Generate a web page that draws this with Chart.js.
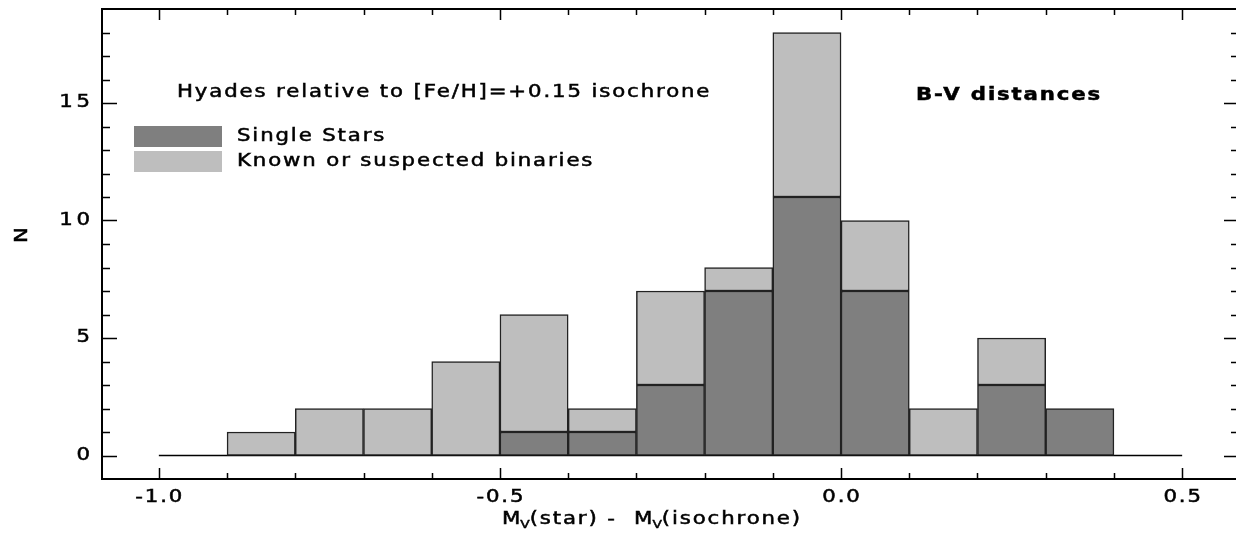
<!DOCTYPE html>
<html>
<head>
<meta charset="utf-8">
<script src="https://cdn.jsdelivr.net/npm/chart.js@4/dist/chart.umd.min.js"></script>
<style>
  html, body { margin: 0; padding: 0; background: #fff; overflow: hidden; }
  #wrap { width: 1236px; height: 548px; overflow: hidden; }
</style>
</head>
<body>
<div id="wrap"><canvas id="hist" width="1242" height="548"></canvas></div>
<script>
// Histogram bins (centres, width 0.1 mag) and counts per bin
const binCenters = [-0.85, -0.75, -0.65, -0.55, -0.45, -0.35, -0.25, -0.15, -0.05, 0.05, 0.15, 0.25, 0.35];
const singleStars = [0, 0, 0, 0, 1, 1, 3, 7, 11, 7, 0, 3, 2];
const binaries = [1, 2, 2, 4, 5, 1, 4, 1, 7, 3, 2, 2, 0];

// Axis ticks
const xTickValues = [-1.0, -0.5, 0.0, 0.5];
const xTickLabels = ['-1.0', '-0.5', '0.0', '0.5'];
const yTickValues = [0, 5, 10, 15];
const yTickLabels = ['0', '5', '10', '15'];

const SX = 1.25;       // horizontal stretch to mimic the wide plot font
const FONT = '"DejaVu Sans"';

// draw text stretched horizontally, returns drawn width
function drawText(ctx, text, x, y, opts) {
    opts = opts || {};
    const size = opts.size || 17;
    const spacing = opts.spacing === undefined ? 1.5 : opts.spacing;
    ctx.save();
    ctx.font = (opts.bold ? 'bold ' : '') + size + 'px ' + FONT;
    ctx.letterSpacing = spacing + 'px';
    ctx.textBaseline = 'middle';
    ctx.textAlign = 'left';
    ctx.fillStyle = '#000';
    ctx.strokeStyle = '#000';
    ctx.lineWidth = 0.5;
    const w = (ctx.measureText(text).width - spacing) * SX;
    let x0 = x;
    if (opts.align === 'center') x0 = x - w / 2;
    else if (opts.align === 'right') x0 = x - w;
    ctx.translate(x0, y);
    ctx.scale(SX, 1);
    ctx.fillText(text, 0, 0);
    ctx.strokeText(text, 0, 0);
    ctx.restore();
    return w;
}

function textWidth(ctx, text, size) {
    ctx.save();
    ctx.font = size + 'px ' + FONT;
    ctx.letterSpacing = '1.5px';
    const w = (ctx.measureText(text).width - 1.5) * SX;
    ctx.restore();
    return w;
}

// Frame, inward ticks, labels, legend and annotations
const framePlugin = {
    id: 'frame',
    afterDraw(chart) {
        const ctx = chart.ctx;
        const a = chart.chartArea;
        const xs = chart.scales.x;
        const ys = chart.scales.y;
        ctx.save();
        ctx.strokeStyle = '#000';
        ctx.lineWidth = 2;
        ctx.strokeRect(a.left, a.top, a.right - a.left, a.bottom - a.top);

        ctx.lineWidth = 1.5;
        ctx.beginPath();
        // x ticks every 0.1, major every 0.5
        for (let i = -10; i <= 5; i++) {
            const v = i / 10;
            const px = Math.round(xs.getPixelForValue(v)) + 0.5;
            const len = (i % 5 === 0) ? 11 : 6;
            ctx.moveTo(px, a.bottom); ctx.lineTo(px, a.bottom - len);
            ctx.moveTo(px, a.top); ctx.lineTo(px, a.top + len);
        }
        // y ticks every 1, major every 5
        for (let v = 0; v <= 18; v++) {
            const py = Math.round(ys.getPixelForValue(v)) + 0.5;
            const len = (v % 5 === 0) ? 15 : 8;
            ctx.moveTo(a.left, py); ctx.lineTo(a.left + len, py);
            ctx.moveTo(a.right, py); ctx.lineTo(a.right - len, py);
        }
        ctx.stroke();
        ctx.restore();

        xTickValues.forEach((v, i) => {
            drawText(ctx, xTickLabels[i], xs.getPixelForValue(v), a.bottom + 19, { align: 'center' });
        });
        yTickValues.forEach((v, i) => {
            drawText(ctx, yTickLabels[i], a.left - 12, ys.getPixelForValue(v), { align: 'right', spacing: 3 });
        });

        // y axis title
        ctx.save();
        ctx.translate(23, 235);
        ctx.rotate(-Math.PI / 2);
        drawText(ctx, 'N', 0, 0, { align: 'center' });
        ctx.restore();

        // x axis title with subscripts
        const parts = [['M', 17, 0], ['V', 11, 5], ['(star) -  M', 17, 0], ['V', 11, 5], ['(isochrone)', 17, 0]];
        let total = 0;
        parts.forEach(p => { total += textWidth(ctx, p[0], p[1]); });
        let cx = 651 - total / 2;
        parts.forEach(p => {
            cx += drawText(ctx, p[0], cx, 520 + p[2], { size: p[1] });
        });

        // annotations
        drawText(ctx, 'Hyades relative to [Fe/H]=+0.15 isochrone', 177, 93);
        drawText(ctx, 'B-V distances', 916, 96, { bold: true });

        // legend
        const ds = chart.data.datasets;
        [0, 1].forEach(i => {
            const top = 126 + i * 25;
            ctx.fillStyle = ds[i].backgroundColor;
            ctx.fillRect(134, top, 88, 21);
            drawText(ctx, ds[i].label, 237, top + 11);
        });
    }
};

const ctx = document.getElementById('hist').getContext('2d');
new Chart(ctx, {
    data: {
        datasets: [
            {
                type: 'bar',
                label: 'Single Stars',
                data: binCenters.map((x, i) => ({ x: x, y: singleStars[i] })),
                backgroundColor: '#7f7f7f',
                borderColor: '#222',
                borderWidth: 1.5,
                borderSkipped: false,
                barPercentage: 1,
                categoryPercentage: 1
            },
            {
                type: 'bar',
                label: 'Known or suspected binaries',
                data: binCenters.map((x, i) => ({ x: x, y: binaries[i] })),
                backgroundColor: '#bebebe',
                borderColor: '#222',
                borderWidth: 1.5,
                borderSkipped: false,
                barPercentage: 1,
                categoryPercentage: 1
            },
            {
                type: 'line',
                label: 'baseline',
                data: [{ x: xTickValues[0], y: 0 }, { x: xTickValues[3], y: 0 }],
                borderColor: '#000',
                borderWidth: 1.5,
                pointRadius: 0,
                order: 5
            }
        ]
    },
    options: {
        responsive: false,
        animation: false,
        devicePixelRatio: 1,
        layout: { padding: { left: 102, right: 3, top: 9, bottom: 69 } },
        plugins: { legend: { display: false }, tooltip: { enabled: false } },
        scales: {
            x: { type: 'linear', min: -13 / 12, max: 7 / 12, offset: false, stacked: true, display: false },
            y: { type: 'linear', min: -1, max: 19, stacked: true, display: false }
        }
    },
    plugins: [framePlugin]
});
</script>
</body>
</html>
